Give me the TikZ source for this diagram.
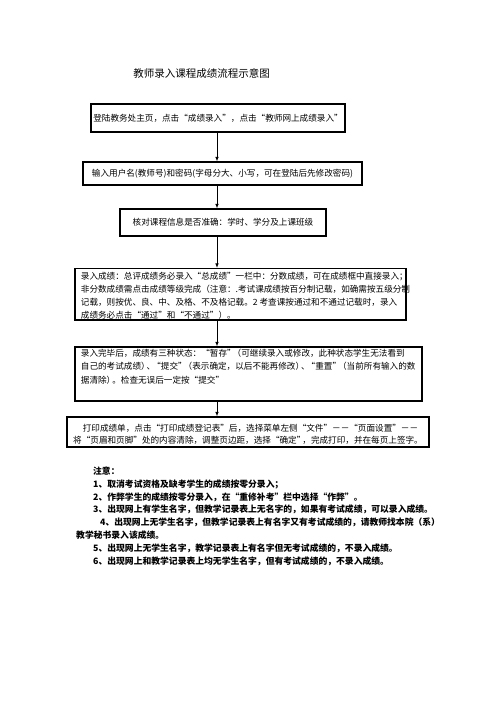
\documentclass[tikz,border=0pt]{standalone}
\usepackage{fontspec}
\setmainfont{Noto Sans CJK SC}
\usetikzlibrary{arrows.meta}
\newcommand\pk{\kern-3pt}
\tikzset{
  box/.style={draw, line width=1.1pt, inner sep=0pt, font=\fontsize{8.6}{12}\selectfont},
  txt/.style={inner sep=0pt, align=left, font=\fontsize{8.6}{13.3}\selectfont},
  arr/.style={-{Latex[length=4.5pt,width=3.5pt]}, line width=0.8pt},
}
\begin{document}
\begin{tikzpicture}[x=1pt,y=-1pt]
\useasboundingbox (0,0) rectangle (496,702);
\node[inner sep=0pt, font=\fontsize{10.5}{12}\selectfont] (title) at (201.5,73) {教师录入课程成绩流程示意图};

\node[box, minimum width=254pt, minimum height=28pt] (b1) at (218,118) {登陆教务处主页，点击“成绩录入”，点击“教师网上成绩录入”};
\node[box, minimum width=279pt, minimum height=23pt] (b2) at (222.5,173.5) {输入用户名(教师号)和密码(字母分大、小写，可在登陆后先修改密码)};
\node[box, minimum width=206pt, minimum height=27pt] (b3) at (223,222.5) {核对课程信息是否准确：学时、学分及上课班级};
\node[box, minimum width=331pt, minimum height=51.5pt] (b4) at (240.5,294.25) {};
\node[txt, anchor=base west] (t4) at (80.7,318.9) {录入成绩：总评成绩务必录入“总成绩”一栏中：分数成绩，可在成绩框中直接录入；\\
非分数成绩需点击成绩等级完成（注意：.考试课成绩按百分制记载，如确需按五级分制\\
记载，则按优、良、中、及格、不及格记载。2 考查课按通过和不通过记载时，录入\\
成绩务必点击“通过”和“不通过”）。};
\node[box, minimum width=347pt, minimum height=54pt] (b5) at (248.5,374) {};
\node[txt, anchor=base west, font=\fontsize{8.6}{13.5}\selectfont] (t5) at (80.7,383.3) {录入完毕后，成绩有三种状态：“暂存”\pk（可继续录入或修改，此种状态学生无法看到\\
自己的考试成绩）\pk、\pk“提交”\pk（表示确定，以后不能再修改）\pk、\pk“重置”\pk（当前所有输入的数\\
据清除）\pk。检查无误后一定按“提交”};
\node[box, minimum width=362pt, minimum height=30pt] (b6) at (248,432) {};
\node[txt, align=center, anchor=base, font=\fontsize{8.6}{12}\selectfont] (t6) at (248,443.3) {\hspace*{5pt}打印成绩单，点击“打印成绩登记表”后，选择菜单左侧“文件”－－“页面设置”－－\\
将“页眉和页脚”处的内容清除，调整页边距，选择“确定”\pk，完成打印，并在每页上签字。};

\node[txt, anchor=base west, font=\fontsize{8.8}{12.85}\selectfont\bfseries] (notes) at (76,564.25) {\hspace*{17pt}注意：\\
\hspace*{17pt}1、取消考试资格及缺考学生的成绩按零分录入；\\
\hspace*{17pt}2、作弊学生的成绩按零分录入，在“重修补考”栏中选择“作弊”。\\
\hspace*{17pt}3、出现网上有学生名字，但教学记录表上无名字的，如果有考试成绩，可以录入成绩。\\
\hspace*{24pt}4、出现网上无学生名字，但教学记录表上有名字又有考试成绩的，请教师找本院（系）\\
教学秘书录入该成绩。\\
\hspace*{17pt}5、出现网上无学生名字，教学记录表上有名字但无考试成绩的，不录入成绩。\\
\hspace*{17pt}6、出现网上和教学记录表上均无学生名字，但有考试成绩的，不录入成绩。};

\coordinate (ax) at (217,0);
\draw[arr] (b1.south -| ax) -- (b2.north -| ax);
\draw[arr] (b2.south -| ax) -- (b3.north -| ax);
\draw[arr] (b3.south -| ax) -- (b4.north -| ax);
\draw[arr] (b4.south -| ax) -- (b5.north -| ax);
\draw[arr] (b5.south -| ax) -- (b6.north -| ax);
\end{tikzpicture}
\end{document}
